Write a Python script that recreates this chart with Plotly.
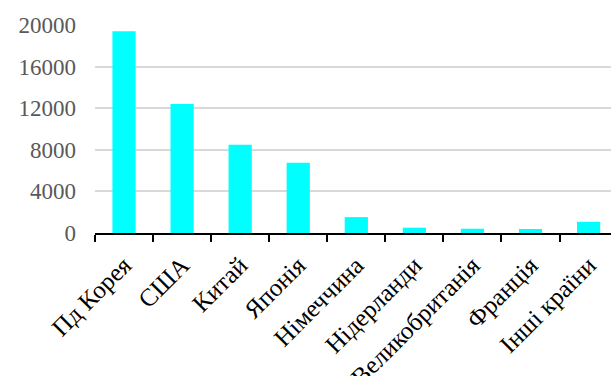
import plotly.graph_objects as go

# Categories and values
countries = ["Пд Корея", "США", "Китай", "Японія", "Німеччина",
             "Нідерланди", "Великобританія", "Франція", "Інші країни"]
values = [19400, 12400, 8480, 6750, 1530, 510, 410, 385, 1080]
y_ticks = [0, 4000, 8000, 12000, 16000, 20000]

fig = go.Figure(
    go.Bar(
        x=countries,
        y=values,
        marker=dict(color="#00FFFF", line=dict(width=0)),
        hoverinfo="x+y",
    )
)

fig.update_layout(
    width=611,
    height=376,
    margin=dict(l=95, r=0, t=25, b=143),
    paper_bgcolor="white",
    plot_bgcolor="white",
    bargap=0.6,
    showlegend=False,
    font=dict(family="Liberation Serif, Times New Roman, serif", size=23, color="#000000"),
)

fig.update_xaxes(
    range=[-0.5, 8.386],
    automargin=False,
    showline=True,
    linecolor="#000000",
    linewidth=1.5,
    ticks="outside",
    tickson="boundaries",
    ticklen=7,
    tickwidth=1.5,
    tickcolor="#000000",
    tickangle=-45,
    ticklabelstandoff=6,
    tickfont=dict(size=25, color="#000000"),
    showgrid=False,
    zeroline=False,
)

fig.update_yaxes(
    range=[0, 20000],
    automargin=False,
    tickvals=y_ticks,
    ticktext=[str(v) for v in y_ticks],
    showgrid=True,
    gridcolor="#d9d9d9",
    gridwidth=1.5,
    zeroline=False,
    showline=False,
    ticks="",
    ticklabelstandoff=18,
    tickfont=dict(size=23, color="#595959"),
)

fig.write_html("out.html")
